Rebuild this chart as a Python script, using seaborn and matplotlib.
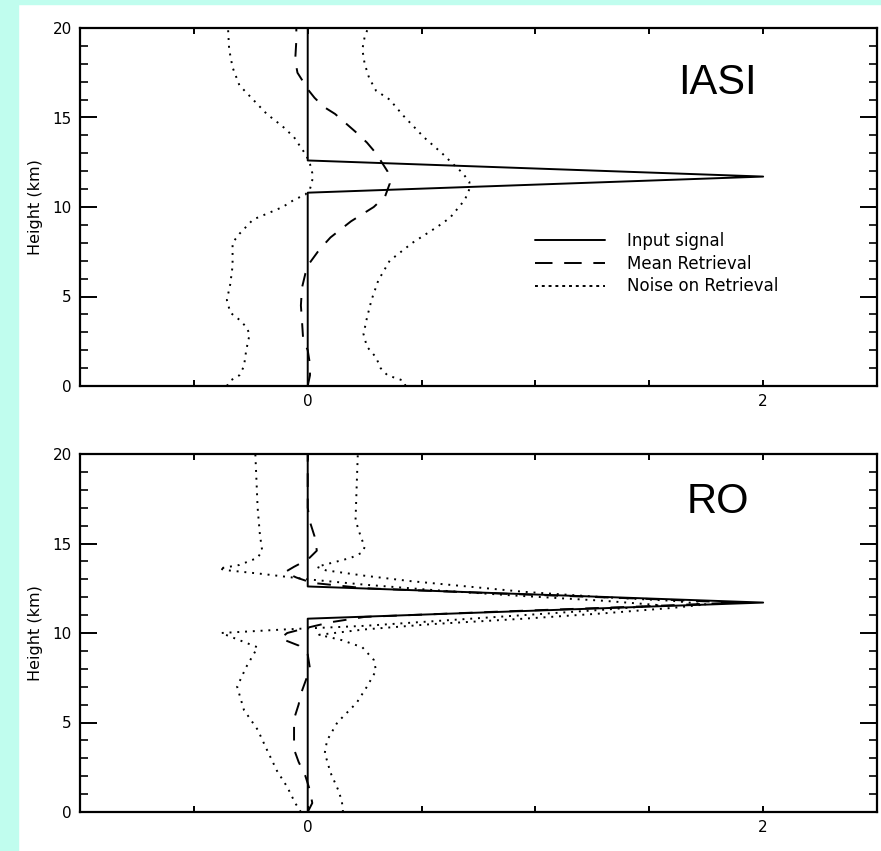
import matplotlib
matplotlib.use("Agg")
import matplotlib.pyplot as plt
from matplotlib.lines import Line2D
from matplotlib.patches import Rectangle
import seaborn as sns

# ---------------- data ----------------
signal_x = [0.0, 0.0, 2.0, 0.0, 0.0]
signal_z = [0.0, 10.8, 11.7, 12.6, 20.0]

iasi_mean_z = [0, 0.6, 1.2, 2.0, 2.6, 3.6, 4.5, 5.5, 6.3, 6.9, 7.6, 8.3, 9.2, 10.0, 10.6,
               11.3, 12.0, 12.4, 13.0, 13.6, 14.2, 14.7, 15.2, 15.6, 16.1, 16.5, 17.0,
               17.5, 18.2, 19.3, 20]
iasi_mean_x = [0.0, 0.01, 0.01, 0.0, -0.02, -0.025, -0.03, -0.025, -0.01, 0.01, 0.05, 0.10,
               0.19, 0.29, 0.34, 0.36, 0.35, 0.33, 0.30, 0.26, 0.21, 0.165, 0.12, 0.07,
               0.03, 0.005, -0.02, -0.045, -0.055, -0.05, -0.05]

iasi_noise_hi_z = [0, 0.3, 0.6, 1.0, 1.6, 2.2, 2.9, 3.8, 4.8, 5.9, 7.0, 8.0, 8.9, 9.4, 10.4,
                   11.0, 11.4, 11.9, 12.5, 13.0, 13.9, 15.1, 16.0, 16.5, 17.2, 18.0, 18.8,
                   19.5, 20]
iasi_noise_hi_x = [0.43, 0.42, 0.35, 0.32, 0.30, 0.26, 0.245, 0.26, 0.28, 0.31, 0.36, 0.46,
                   0.57, 0.625, 0.69, 0.71, 0.71, 0.68, 0.63, 0.59, 0.51, 0.42, 0.36, 0.30,
                   0.27, 0.25, 0.24, 0.25, 0.265]

iasi_noise_lo_z = [0, 0.3, 0.6, 1.1, 2.0, 2.9, 3.3, 3.7, 4.1, 4.8, 5.7, 6.7, 8.0, 8.5, 8.9,
                   9.3, 9.7, 10.0, 10.4, 10.7, 11.0, 11.5, 11.9, 12.4, 12.9, 13.4, 13.9,
                   14.5, 15.2, 16.0, 16.8, 17.8, 18.8, 20]
iasi_noise_lo_x = [-0.355, -0.34, -0.30, -0.28, -0.27, -0.255, -0.27, -0.30, -0.34, -0.355,
                   -0.34, -0.33, -0.33, -0.30, -0.27, -0.24, -0.165, -0.11, -0.06, -0.01,
                   0.01, 0.02, 0.02, 0.01, -0.007, -0.034, -0.06, -0.11, -0.18, -0.24,
                   -0.30, -0.33, -0.345, -0.35]

ro_mean_z = [0, 0.5, 1.2, 2.0, 2.8, 3.5, 4.5, 5.2, 6.0, 6.6, 7.3, 8.0, 8.8, 9.3, 9.7, 10.0,
             10.3, 10.6, 10.9, 11.2, 11.5, 11.7, 11.9, 12.2, 12.5, 12.8, 13.1, 13.4, 13.7,
             14.1, 14.6, 15.4, 16.2, 17.0, 18.0, 20]
ro_mean_x = [0.0, 0.02, 0.01, -0.01, -0.04, -0.06, -0.06, -0.06, -0.04, -0.03, -0.01, 0.01,
             0.0, -0.04, -0.12, -0.09, 0.0, 0.1, 0.25, 0.85, 1.5, 1.88, 1.5, 0.85, 0.25,
             0.02, -0.05, -0.1, -0.06, 0.0, 0.04, 0.03, 0.01, 0.0, 0.0, 0.0]

ro_noise_lo_z = [0, 0.5, 1.4, 2.3, 3.5, 4.6, 5.7, 7.0, 8.1, 9.2, 9.6, 10.0, 10.2, 10.4, 10.7,
                 11.0, 11.3, 11.55, 11.8, 12.1, 12.4, 12.7, 13.0, 13.3, 13.5, 13.6, 13.8,
                 14.2, 14.6, 15.5, 17.0, 18.5, 20]
ro_noise_lo_x = [-0.03, -0.055, -0.09, -0.135, -0.18, -0.22, -0.28, -0.31, -0.27, -0.22,
                 -0.30, -0.38, -0.1, 0.25, 0.6, 0.95, 1.3, 1.55, 1.3, 0.9, 0.55, 0.25, 0.0,
                 -0.2, -0.35, -0.39, -0.3, -0.22, -0.2, -0.21, -0.22, -0.225, -0.23]

ro_noise_hi_z = [0, 0.6, 1.2, 2.2, 3.3, 4.0, 5.0, 6.1, 7.0, 7.9, 8.5, 9.2, 9.6, 9.9, 10.2,
                 10.5, 10.8, 11.1, 11.4, 11.6, 11.8, 12.0, 12.3, 12.6, 12.9, 13.2, 13.5,
                 13.7, 14.2, 14.5, 14.8, 15.5, 16.3, 18.2, 20]
ro_noise_hi_x = [0.155, 0.15, 0.135, 0.1, 0.075, 0.085, 0.13, 0.215, 0.26, 0.30, 0.29, 0.24,
                 0.15, 0.05, 0.25, 0.55, 0.95, 1.3, 1.6, 1.75, 1.6, 1.3, 0.95, 0.7, 0.45,
                 0.25, 0.08, 0.04, 0.19, 0.24, 0.25, 0.23, 0.21, 0.215, 0.22]

legend_labels = ["Input signal", "Mean Retrieval", "Noise on Retrieval"]
panel_names = ["IASI", "RO"]
x_tick_labels = {0: "0", 2: "2"}

# ---------------- figure ----------------
sns.set_theme(style="white")
plt.rcParams["font.family"] = ["DejaVu Sans"]
plt.rcParams["text.color"] = "black"
plt.rcParams["axes.labelcolor"] = "black"

W, H = 881, 851
fig = plt.figure(figsize=(W / 100, H / 100), dpi=100, facecolor="white")

cyan = "#c0fdee"
fig.patches.append(Rectangle((0, 0), 18 / W, 1, transform=fig.transFigure, color=cyan, zorder=0))
fig.patches.append(Rectangle((0, 1 - 4 / H), 1, 4 / H, transform=fig.transFigure, color=cyan, zorder=0))

left, right = 80 / W, 877 / W
ax_top = fig.add_axes([left, 1 - 386 / H, right - left, (386 - 28) / H])
ax_bot = fig.add_axes([left, 1 - 812 / H, right - left, (812 - 454) / H])

LW = 1.4
solid = "-"
dashed = (0, (7, 6))
dotted = (0, (1.0, 3.0))


def draw(ax, mean_x, mean_z, lo_x, lo_z, hi_x, hi_z, name, label_z):
    sns.lineplot(x=signal_x, y=signal_z, sort=False, estimator=None, ax=ax,
                 color="black", lw=LW, linestyle=solid)
    sns.lineplot(x=mean_x, y=mean_z, sort=False, estimator=None, ax=ax,
                 color="black", lw=LW, linestyle=dashed)
    sns.lineplot(x=lo_x, y=lo_z, sort=False, estimator=None, ax=ax,
                 color="black", lw=LW, linestyle=dotted)
    sns.lineplot(x=hi_x, y=hi_z, sort=False, estimator=None, ax=ax,
                 color="black", lw=LW, linestyle=dotted)
    ax.set_xlim(-1, 2.5)
    ax.set_ylim(0, 20)
    ax.set_facecolor("white")
    for s in ax.spines.values():
        s.set_color("black")
        s.set_linewidth(1.6)
        s.set_visible(True)
    ticks = [-0.5, 0, 0.5, 1.0, 1.5, 2.0]
    ax.set_xticks(ticks)
    ax.set_xticklabels([x_tick_labels.get(t, "") for t in ticks])
    ax.set_yticks([0, 5, 10, 15, 20])
    ax.set_yticks(range(0, 21), minor=True)
    ax.tick_params(axis="x", which="major", direction="in", length=4.5, width=1.4,
                   top=True, bottom=True, labelsize=11, pad=6, colors="black")
    ax.tick_params(axis="y", which="major", direction="in", length=12, width=1.4,
                   left=True, right=True, labelsize=11, pad=6, colors="black")
    ax.tick_params(axis="y", which="minor", direction="in", length=6, width=1.4,
                   left=True, right=True)
    ax.set_xlabel("")
    ax.set_ylabel("Height (km)", fontsize=11.5, color="black")
    ax.yaxis.set_label_coords(-0.046, 0.5)
    ax.text(1.8, label_z, name, fontsize=30, family="Liberation Sans",
            ha="center", va="center", color="black")


draw(ax_top, iasi_mean_x, iasi_mean_z, iasi_noise_lo_x, iasi_noise_lo_z,
     iasi_noise_hi_x, iasi_noise_hi_z, panel_names[0], 16.9)
draw(ax_bot, ro_mean_x, ro_mean_z, ro_noise_lo_x, ro_noise_lo_z,
     ro_noise_hi_x, ro_noise_hi_z, panel_names[1], 17.3)

handles = [Line2D([], [], color="black", lw=LW, linestyle=solid),
           Line2D([], [], color="black", lw=LW, linestyle=(0, (9, 6))),
           Line2D([], [], color="black", lw=LW, linestyle=(0, (1.5, 2)))]
ax_top.legend(handles, legend_labels, loc="upper left",
              bbox_to_anchor=(535 / W, 1 - 232 / H), bbox_transform=fig.transFigure,
              frameon=False, fontsize=12, handlelength=4.2, handletextpad=1.3,
              borderpad=0, borderaxespad=0, labelspacing=0.28, labelcolor="black")

fig.savefig("out.png", dpi=100, facecolor="white")
